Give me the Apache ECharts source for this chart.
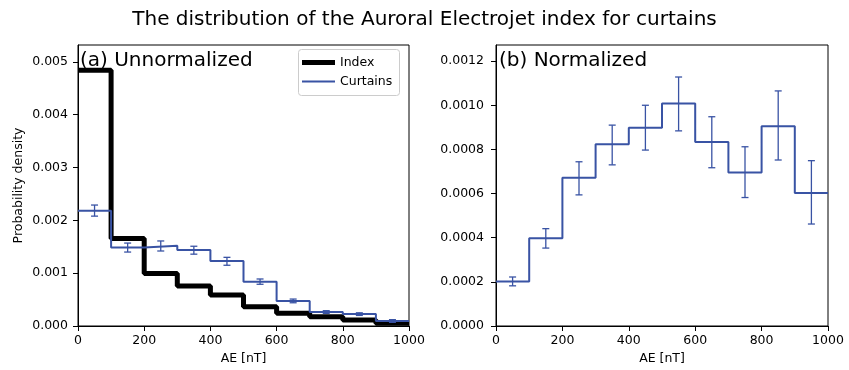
<!DOCTYPE html>
<html>
<head>
<meta charset="utf-8">
<script src="https://cdn.jsdelivr.net/npm/echarts@6/dist/echarts.min.js"></script>
<style>html,body{margin:0;padding:0;background:#fff;}#c{width:849px;height:370px;}</style>
</head>
<body>
<div id="c"></div>
<script>
// Bin left edges (AE, nT)
const binEdges = [0, 100, 200, 300, 400, 500, 600, 700, 800, 900, 1000];
const binCenters = [50, 150, 250, 350, 450, 550, 650, 750, 850, 950];
// (a) Unnormalized
const indexDensity = [0.00484, 0.001658, 0.000996, 0.000756, 0.000586, 0.000365, 0.00024, 0.000176, 0.000113, 0.00005];
const curtainDensity = [0.00218, 0.001487, 0.001518, 0.001437, 0.001229, 0.000838, 0.000473, 0.000265, 0.000227, 0.0000945];
const curtainLow = [0.00208, 0.001400, 0.001420, 0.001360, 0.001150, 0.000790, 0.000440, 0.000240, 0.000200, 0.000070];
const curtainHigh = [0.00229, 0.001570, 0.001610, 0.001510, 0.001300, 0.000890, 0.000510, 0.000290, 0.000250, 0.000120];
// (b) Normalized
const normDensity = [0.000202, 0.000398, 0.000672, 0.000823, 0.000898, 0.001008, 0.000833, 0.000695, 0.000905, 0.000602];
const normLow = [0.000182, 0.000353, 0.000594, 0.000730, 0.000797, 0.000884, 0.000717, 0.000582, 0.000752, 0.000462];
const normHigh = [0.000222, 0.000441, 0.000744, 0.000910, 0.001000, 0.001128, 0.000948, 0.000812, 0.001065, 0.000749];

const FONT = 'DejaVu Sans';
const BLUE = '#3953a4';
const TICKFS = 12.5;

function stepData(vals) {
  const d = vals.map((v, i) => [binEdges[i], v]);
  d.push([binEdges[vals.length], vals[vals.length - 1]]);
  return d;
}
function errData(lo, hi) {
  return binCenters.map((c, i) => [c, lo[i], hi[i]]);
}
function errRender(params, api) {
  const lo = api.coord([api.value(0), api.value(1)]);
  const hi = api.coord([api.value(0), api.value(2)]);
  const cap = 3.5;
  const st = { stroke: BLUE, lineWidth: 1.3, fill: null };
  return {
    type: 'group',
    children: [
      { type: 'line', shape: { x1: lo[0], y1: lo[1], x2: hi[0], y2: hi[1] }, style: st },
      { type: 'line', shape: { x1: lo[0] - cap, y1: lo[1], x2: lo[0] + cap, y2: lo[1] }, style: st },
      { type: 'line', shape: { x1: hi[0] - cap, y1: hi[1], x2: hi[0] + cap, y2: hi[1] }, style: st }
    ]
  };
}
function xAxisCfg(gi) {
  return {
    type: 'value', gridIndex: gi, min: 0, max: 1000, interval: 200,
    name: 'AE [nT]', nameLocation: 'middle', nameGap: 26,
    nameTextStyle: { fontFamily: FONT, fontSize: TICKFS, color: '#000' },
    axisLine: { show: true, onZero: false, lineStyle: { color: '#000', width: 1 } },
    axisTick: { show: true, length: 5, lineStyle: { color: '#000' } },
    axisLabel: { fontFamily: FONT, fontSize: TICKFS, color: '#000', margin: 8, formatter: v => String(v) },
    splitLine: { show: false }
  };
}
function yAxisCfg(gi, max, interval, dec, name, margin) {
  return {
    type: 'value', gridIndex: gi, min: 0, max: max, interval: interval,
    name: name, nameLocation: 'middle', nameGap: 53,
    nameTextStyle: { fontFamily: FONT, fontSize: TICKFS, color: '#000' },
    axisLine: { show: true, lineStyle: { color: '#000', width: 1 } },
    axisTick: { show: true, length: 5, lineStyle: { color: '#000' } },
    axisLabel: {
      fontFamily: FONT, fontSize: TICKFS, color: '#000', margin: margin, showMaxLabel: false,
      formatter: v => v.toFixed(dec)
    },
    splitLine: { show: false }
  };
}

const chart = echarts.init(document.getElementById('c'), null, { renderer: 'canvas' });
chart.setOption({
  animation: false,
  backgroundColor: '#fff',
  title: [
    { text: 'The distribution of the Auroral Electrojet index for curtains', left: 'center', top: 5,
      textStyle: { fontFamily: FONT, fontSize: 20, fontWeight: 'normal', color: '#000' } },
    { text: '(a) Unnormalized', left: 75, top: 46,
      textStyle: { fontFamily: FONT, fontSize: 20, fontWeight: 'normal', color: '#000' } },
    { text: '(b) Normalized', left: 494, top: 46,
      textStyle: { fontFamily: FONT, fontSize: 20, fontWeight: 'normal', color: '#000' } }
  ],
  graphic: [
    { type: 'rect', left: 298, top: 49, z: 3,
      shape: { width: 101, height: 46, r: 3 },
      style: { fill: 'rgba(255,255,255,0.8)', stroke: '#cccccc', lineWidth: 1 } }
  ],
  legend: [
    { data: [{ name: 'Index', icon: 'rect' }], left: 297, top: 51, itemWidth: 33, itemHeight: 5,
      itemGap: 8, z: 5, textStyle: { fontFamily: FONT, fontSize: TICKFS, color: '#000' }, selectedMode: false },
    { data: [{ name: 'Curtains', icon: 'rect' }], left: 297, top: 70, itemWidth: 33, itemHeight: 2,
      itemGap: 8, z: 5, textStyle: { fontFamily: FONT, fontSize: TICKFS, color: '#000' }, selectedMode: false }
  ],
  grid: [
    { left: 78, right: 440, top: 45, bottom: 43, show: true, borderColor: '#000', borderWidth: 1, backgroundColor: 'transparent' },
    { left: 496, right: 21, top: 45, bottom: 43, show: true, borderColor: '#000', borderWidth: 1, backgroundColor: 'transparent' }
  ],
  xAxis: [xAxisCfg(0), xAxisCfg(1)],
  yAxis: [
    yAxisCfg(0, 0.00532, 0.001, 3, 'Probability density', 10),
    yAxisCfg(1, 0.001273, 0.0002, 4, '', 12)
  ],
  series: [
    { name: 'Index', type: 'line', xAxisIndex: 0, yAxisIndex: 0, step: 'end', data: stepData(indexDensity),
      showSymbol: false, symbol: 'none', lineStyle: { color: '#000', width: 5 }, itemStyle: { color: '#000' }, clip: true, z: 2 },
    { name: 'Curtains', type: 'line', xAxisIndex: 0, yAxisIndex: 0, step: 'end', data: stepData(curtainDensity),
      showSymbol: false, symbol: 'none', lineStyle: { color: BLUE, width: 2 }, itemStyle: { color: BLUE }, clip: true, z: 3 },
    { name: 'CurtainsErr', type: 'custom', xAxisIndex: 0, yAxisIndex: 0, data: errData(curtainLow, curtainHigh),
      renderItem: errRender, z: 4 },
    { name: 'Curtains', type: 'line', xAxisIndex: 1, yAxisIndex: 1, step: 'end', data: stepData(normDensity),
      showSymbol: false, symbol: 'none', lineStyle: { color: BLUE, width: 2 }, itemStyle: { color: BLUE }, clip: true, z: 3 },
    { name: 'NormErr', type: 'custom', xAxisIndex: 1, yAxisIndex: 1, data: errData(normLow, normHigh),
      renderItem: errRender, z: 4 }
  ]
});
</script>
</body>
</html>
